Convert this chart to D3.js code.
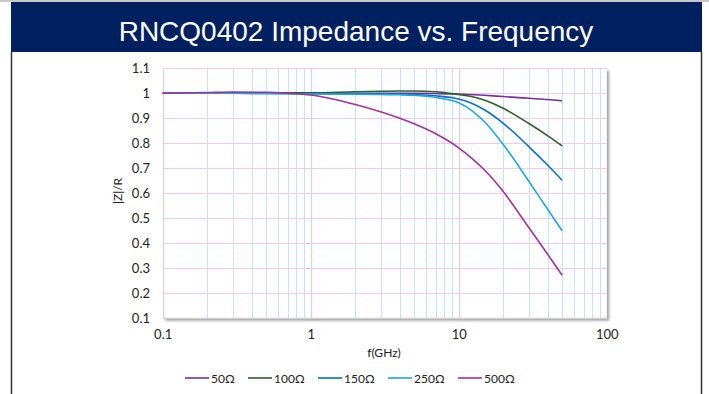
<!DOCTYPE html>
<html>
<head>
<meta charset="utf-8">
<script src="https://cdn.jsdelivr.net/npm/d3@7"></script>
<style>
  body { margin: 0; background: #fff; }
  svg { display: block; }
</style>
</head>
<body>
<svg width="709" height="394"></svg>
<script>
// frequencies in GHz
var freqs = [0.1, 0.2, 0.3, 0.5, 0.7, 1, 2, 3, 4, 5, 7, 10, 12, 15, 20, 30, 40, 50];

var seriesNames = ['50Ω', '100Ω', '150Ω', '250Ω', '500Ω'];
var seriesColors = ['#7030a0', '#2f5f2a', '#0a70c4', '#1ea6e0', '#a2309a'];

var z50  = [1.000, 1.000, 1.000, 1.000, 1.000, 1.000, 1.000, 1.000, 1.000, 1.000, 0.999, 0.997, 0.995, 0.992, 0.987, 0.980, 0.975, 0.970];
var z100 = [1.000, 1.000, 1.001, 1.002, 1.002, 1.002, 1.006, 1.008, 1.009, 1.009, 1.006, 0.995, 0.988, 0.972, 0.940, 0.878, 0.830, 0.790];
var z150 = [1.000, 1.000, 1.000, 0.999, 0.999, 0.998, 0.998, 0.998, 0.997, 0.995, 0.990, 0.977, 0.962, 0.933, 0.880, 0.785, 0.712, 0.652];
var z250 = [1.000, 1.000, 1.000, 0.999, 0.998, 0.997, 0.996, 0.995, 0.994, 0.992, 0.983, 0.962, 0.935, 0.885, 0.795, 0.645, 0.535, 0.450];
var z500 = [1.000, 1.003, 1.005, 1.004, 1.000, 0.993, 0.955, 0.925, 0.900, 0.878, 0.838, 0.782, 0.745, 0.692, 0.607, 0.460, 0.355, 0.272];

var seriesValues = [z50, z100, z150, z250, z500];

var xTicks = [0.1, 1, 10, 100];
var yTicks = [0.1, 0.2, 0.3, 0.4, 0.5, 0.6, 0.7, 0.8, 0.9, 1, 1.1];

var svg = d3.select('svg');

// frame and title bar
svg.append('rect')
    .attr('x', 0).attr('y', 0).attr('width', 709).attr('height', 2)
    .attr('fill', '#c8c8c8');
svg.append('rect')
    .attr('x', 11).attr('y', 2).attr('width', 691).attr('height', 50)
    .attr('fill', '#00205f');
svg.append('text')
    .attr('x', 356).attr('y', 41)
    .attr('text-anchor', 'middle')
    .attr('fill', '#fff')
    .style('font-family', '"Liberation Sans", Arial, sans-serif')
    .style('font-size', '28px')
    .text('RNCQ0402 Impedance vs. Frequency');
svg.append('line')
    .attr('x1', 11.5).attr('x2', 11.5).attr('y1', 52).attr('y2', 394)
    .attr('stroke', '#333').attr('stroke-width', 1.5);
svg.append('line')
    .attr('x1', 701.5).attr('x2', 701.5).attr('y1', 52).attr('y2', 394)
    .attr('stroke', '#333').attr('stroke-width', 1.5);

var x = d3.scaleLog().domain([0.1, 100]).range([162.7, 606.7]);
var y = d3.scaleLinear().domain([0.1, 1.1]).range([318.3, 68.3]);

var defs = svg.append('defs');
var filter = defs.append('filter').attr('id', 'shadow')
    .attr('x', '-5%').attr('y', '-5%').attr('width', '110%').attr('height', '110%');
filter.append('feDropShadow')
    .attr('dx', 2.5).attr('dy', 2.5).attr('stdDeviation', 1.2)
    .attr('flood-color', '#000').attr('flood-opacity', 0.35);

svg.append('rect')
    .attr('x', x(0.1)).attr('y', y(1.1))
    .attr('width', x(100) - x(0.1)).attr('height', y(0.1) - y(1.1))
    .attr('fill', '#fff')
    .attr('filter', 'url(#shadow)');

// minor vertical grid
var minor = [];
[0.1, 1, 10].forEach(function (d) {
    for (var k = 2; k <= 9; k++) minor.push(d * k);
});
svg.append('g').selectAll('line')
    .data(minor)
    .enter()
    .append('line')
        .attr('x1', function (d) { return Math.round(x(d)) + 0.5; })
        .attr('x2', function (d) { return Math.round(x(d)) + 0.5; })
        .attr('y1', y(1.1)).attr('y2', y(0.1))
        .attr('stroke', '#c4e4f5').attr('stroke-width', 1);

// horizontal grid
svg.append('g').selectAll('line')
    .data(yTicks.slice(1))
    .enter()
    .append('line')
        .attr('x1', x(0.1)).attr('x2', x(100))
        .attr('y1', function (d) { return Math.round(y(d)) + 0.5; })
        .attr('y2', function (d) { return Math.round(y(d)) + 0.5; })
        .attr('stroke', '#f2c8ef').attr('stroke-width', 1.2);

// decade lines
svg.append('g').selectAll('line')
    .data([0.1, 1, 10])
    .enter()
    .append('line')
        .attr('x1', function (d) { return Math.round(x(d)) + 0.5; })
        .attr('x2', function (d) { return Math.round(x(d)) + 0.5; })
        .attr('y1', y(1.1)).attr('y2', y(0.1))
        .attr('stroke', '#d6d6d6').attr('stroke-width', 1.3);
svg.append('line')
    .attr('x1', x(0.1)).attr('x2', x(100))
    .attr('y1', y(0.1)).attr('y2', y(0.1))
    .attr('stroke', '#cfcfcf').attr('stroke-width', 1.3);

// curves
var line = d3.line()
    .x(function (d) { return x(d[0]); })
    .y(function (d) { return y(d[1]); })
    .curve(d3.curveMonotoneX);

seriesValues.forEach(function (vals, i) {
    svg.append('path')
        .datum(freqs.map(function (f, j) { return [f, vals[j]]; }))
        .attr('d', line)
        .attr('fill', 'none')
        .attr('stroke', seriesColors[i])
        .attr('stroke-width', 1.6);
});

// axes labels
var labelFont = 'Lato, "Open Sans", sans-serif';
var yAxis = d3.axisLeft(y).tickValues(yTicks).tickSize(0).tickPadding(0)
    .tickFormat(function (d) { return d3.format('~g')(d); });
var gy = svg.append('g').attr('transform', 'translate(150,0)').call(yAxis);
gy.select('.domain').remove();
gy.selectAll('text')
    .style('font-family', labelFont).style('font-size', '13px').attr('fill', '#222');

var xAxis = d3.axisBottom(x).tickValues(xTicks).tickSize(0).tickPadding(0)
    .tickFormat(function (d) { return d3.format('~g')(d); });
var gx = svg.append('g').attr('transform', 'translate(0,330)').call(xAxis);
gx.select('.domain').remove();
gx.selectAll('text')
    .style('font-family', labelFont).style('font-size', '13px').attr('fill', '#222');

svg.append('text')
    .attr('x', 384).attr('y', 357)
    .attr('text-anchor', 'middle')
    .style('font-family', labelFont).style('font-size', '12px').attr('fill', '#222')
    .text('f(GHz)');

svg.append('text')
    .attr('transform', 'translate(122,' + 191 + ') rotate(-90)')
    .attr('text-anchor', 'middle')
    .style('font-family', labelFont).style('font-size', '12px').attr('fill', '#222')
    .text('|Z|/R');

// legend
var legendX = [185, 248, 318, 388, 458];
var legend = svg.append('g').selectAll('g')
    .data(seriesNames)
    .enter()
    .append('g')
        .attr('transform', function (d, i) { return 'translate(' + legendX[i] + ',378)'; });
legend.append('line')
    .attr('x1', 0).attr('x2', 24).attr('y1', 0).attr('y2', 0)
    .attr('stroke', function (d, i) { return seriesColors[i]; })
    .attr('stroke-width', 1.6);
legend.append('text')
    .attr('x', 26).attr('y', 4.5)
    .style('font-family', labelFont).style('font-size', '12px').attr('fill', '#222')
    .text(function (d) { return d; });
</script>
</body>
</html>
